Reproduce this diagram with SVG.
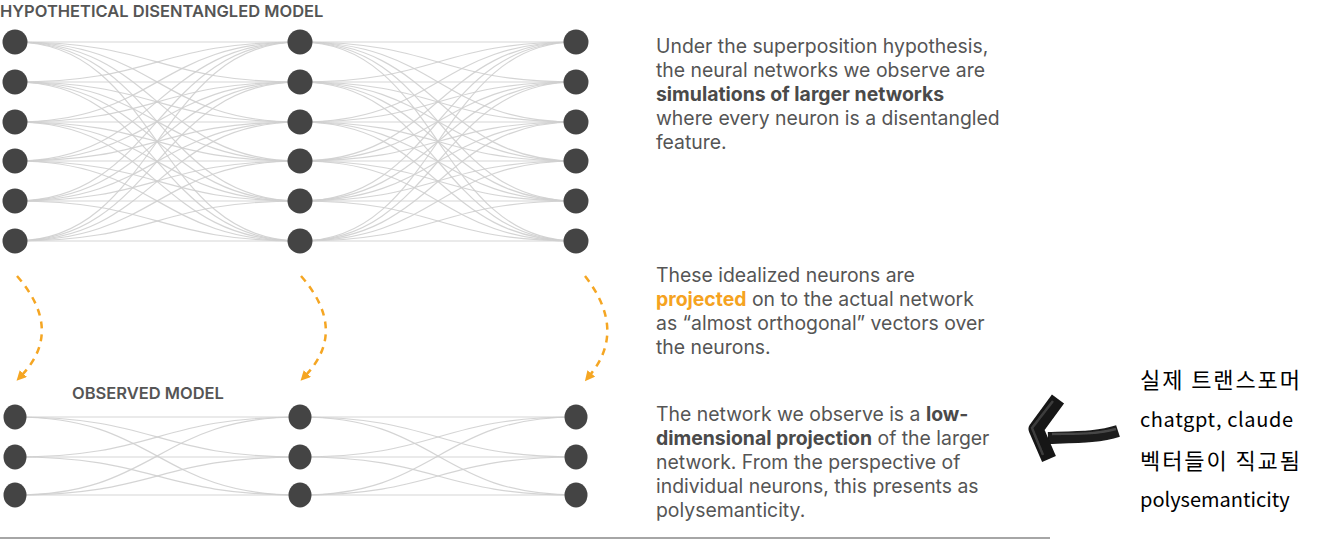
<svg xmlns="http://www.w3.org/2000/svg" width="1320" height="540" viewBox="0 0 1320 540">
<defs>
<style>
.e{fill:none;stroke:#cfcfcf;stroke-width:1.2;opacity:0.9}
.n{fill:#444}
.title{font-family:Inter,"Liberation Sans",sans-serif;font-weight:600;font-size:16.5px;fill:#555}
.body{font-family:Inter,"Liberation Sans",sans-serif;font-size:19.4px;fill:#555}
.b{font-weight:700;fill:#4a4a4a}
.o{font-weight:700;fill:#f5a31f}
.proj{fill:none;stroke:#f5a623;stroke-width:2.5;stroke-dasharray:7 6}
.ko{font-family:"Noto Sans CJK KR","Liberation Sans",sans-serif;font-size:20px;fill:#000}
.kh{font-size:22px}
</style>
<marker id="ah" markerWidth="10" markerHeight="10" refX="2" refY="5" orient="auto" markerUnits="userSpaceOnUse" viewBox="0 0 10 10">
<path d="M0,0 L10,5 L0,10 z" fill="#f5a623"/>
</marker>
<filter id="soft" x="-10%" y="-10%" width="120%" height="120%">
<feGaussianBlur stdDeviation="0.7"/>
</filter>
</defs>
<rect width="1320" height="540" fill="#fff"/>

<text class="title" x="0" y="17">HYPOTHETICAL DISENTANGLED MODEL</text>
<text class="title" x="72" y="399">OBSERVED MODEL</text>

<g id="connectors">
<!-- top layer A: 15 -> 300 -->
<path class="e" d="M15,42 C157,42 157,42 300,42"/>
<path class="e" d="M15,42 C157,42 157,82 300,82"/>
<path class="e" d="M15,42 C157,42 157,122 300,122"/>
<path class="e" d="M15,42 C157,42 157,161 300,161"/>
<path class="e" d="M15,42 C157,42 157,201 300,201"/>
<path class="e" d="M15,42 C157,42 157,241 300,241"/>
<path class="e" d="M15,82 C157,82 157,42 300,42"/>
<path class="e" d="M15,82 C157,82 157,82 300,82"/>
<path class="e" d="M15,82 C157,82 157,122 300,122"/>
<path class="e" d="M15,82 C157,82 157,161 300,161"/>
<path class="e" d="M15,82 C157,82 157,201 300,201"/>
<path class="e" d="M15,82 C157,82 157,241 300,241"/>
<path class="e" d="M15,122 C157,122 157,42 300,42"/>
<path class="e" d="M15,122 C157,122 157,82 300,82"/>
<path class="e" d="M15,122 C157,122 157,122 300,122"/>
<path class="e" d="M15,122 C157,122 157,161 300,161"/>
<path class="e" d="M15,122 C157,122 157,201 300,201"/>
<path class="e" d="M15,122 C157,122 157,241 300,241"/>
<path class="e" d="M15,161 C157,161 157,42 300,42"/>
<path class="e" d="M15,161 C157,161 157,82 300,82"/>
<path class="e" d="M15,161 C157,161 157,122 300,122"/>
<path class="e" d="M15,161 C157,161 157,161 300,161"/>
<path class="e" d="M15,161 C157,161 157,201 300,201"/>
<path class="e" d="M15,161 C157,161 157,241 300,241"/>
<path class="e" d="M15,201 C157,201 157,42 300,42"/>
<path class="e" d="M15,201 C157,201 157,82 300,82"/>
<path class="e" d="M15,201 C157,201 157,122 300,122"/>
<path class="e" d="M15,201 C157,201 157,161 300,161"/>
<path class="e" d="M15,201 C157,201 157,201 300,201"/>
<path class="e" d="M15,201 C157,201 157,241 300,241"/>
<path class="e" d="M15,241 C157,241 157,42 300,42"/>
<path class="e" d="M15,241 C157,241 157,82 300,82"/>
<path class="e" d="M15,241 C157,241 157,122 300,122"/>
<path class="e" d="M15,241 C157,241 157,161 300,161"/>
<path class="e" d="M15,241 C157,241 157,201 300,201"/>
<path class="e" d="M15,241 C157,241 157,241 300,241"/>
<!-- top layer B: 300 -> 576 -->
<path class="e" d="M300,42 C438,42 438,42 576,42"/>
<path class="e" d="M300,42 C438,42 438,82 576,82"/>
<path class="e" d="M300,42 C438,42 438,122 576,122"/>
<path class="e" d="M300,42 C438,42 438,161 576,161"/>
<path class="e" d="M300,42 C438,42 438,201 576,201"/>
<path class="e" d="M300,42 C438,42 438,241 576,241"/>
<path class="e" d="M300,82 C438,82 438,42 576,42"/>
<path class="e" d="M300,82 C438,82 438,82 576,82"/>
<path class="e" d="M300,82 C438,82 438,122 576,122"/>
<path class="e" d="M300,82 C438,82 438,161 576,161"/>
<path class="e" d="M300,82 C438,82 438,201 576,201"/>
<path class="e" d="M300,82 C438,82 438,241 576,241"/>
<path class="e" d="M300,122 C438,122 438,42 576,42"/>
<path class="e" d="M300,122 C438,122 438,82 576,82"/>
<path class="e" d="M300,122 C438,122 438,122 576,122"/>
<path class="e" d="M300,122 C438,122 438,161 576,161"/>
<path class="e" d="M300,122 C438,122 438,201 576,201"/>
<path class="e" d="M300,122 C438,122 438,241 576,241"/>
<path class="e" d="M300,161 C438,161 438,42 576,42"/>
<path class="e" d="M300,161 C438,161 438,82 576,82"/>
<path class="e" d="M300,161 C438,161 438,122 576,122"/>
<path class="e" d="M300,161 C438,161 438,161 576,161"/>
<path class="e" d="M300,161 C438,161 438,201 576,201"/>
<path class="e" d="M300,161 C438,161 438,241 576,241"/>
<path class="e" d="M300,201 C438,201 438,42 576,42"/>
<path class="e" d="M300,201 C438,201 438,82 576,82"/>
<path class="e" d="M300,201 C438,201 438,122 576,122"/>
<path class="e" d="M300,201 C438,201 438,161 576,161"/>
<path class="e" d="M300,201 C438,201 438,201 576,201"/>
<path class="e" d="M300,201 C438,201 438,241 576,241"/>
<path class="e" d="M300,241 C438,241 438,42 576,42"/>
<path class="e" d="M300,241 C438,241 438,82 576,82"/>
<path class="e" d="M300,241 C438,241 438,122 576,122"/>
<path class="e" d="M300,241 C438,241 438,161 576,161"/>
<path class="e" d="M300,241 C438,241 438,201 576,201"/>
<path class="e" d="M300,241 C438,241 438,241 576,241"/>
<!-- bottom layer A -->
<path class="e" d="M15,417 C157,417 157,417 300,417"/>
<path class="e" d="M15,417 C157,417 157,457 300,457"/>
<path class="e" d="M15,417 C157,417 157,495 300,495"/>
<path class="e" d="M15,457 C157,457 157,417 300,417"/>
<path class="e" d="M15,457 C157,457 157,457 300,457"/>
<path class="e" d="M15,457 C157,457 157,495 300,495"/>
<path class="e" d="M15,495 C157,495 157,417 300,417"/>
<path class="e" d="M15,495 C157,495 157,457 300,457"/>
<path class="e" d="M15,495 C157,495 157,495 300,495"/>
<!-- bottom layer B -->
<path class="e" d="M300,417 C438,417 438,417 576,417"/>
<path class="e" d="M300,417 C438,417 438,457 576,457"/>
<path class="e" d="M300,417 C438,417 438,495 576,495"/>
<path class="e" d="M300,457 C438,457 438,417 576,417"/>
<path class="e" d="M300,457 C438,457 438,457 576,457"/>
<path class="e" d="M300,457 C438,457 438,495 576,495"/>
<path class="e" d="M300,495 C438,495 438,417 576,417"/>
<path class="e" d="M300,495 C438,495 438,457 576,457"/>
<path class="e" d="M300,495 C438,495 438,495 576,495"/>
<!-- projection arrows -->
<path class="proj" d="M17,276 Q64,330 22,375" marker-end="url(#ah)"/>
<path class="proj" d="M301,276 Q348,330 306,375" marker-end="url(#ah)"/>
<path class="proj" d="M585,276 Q627,330 590,375" marker-end="url(#ah)"/>
</g>

<g id="hyp-l0-0"><circle class="n" cx="15" cy="42" r="12.5"/></g>
<g id="hyp-l0-1"><circle class="n" cx="15" cy="82" r="12.5"/></g>
<g id="hyp-l0-2"><circle class="n" cx="15" cy="122" r="12.5"/></g>
<g id="hyp-l0-3"><circle class="n" cx="15" cy="161" r="12.5"/></g>
<g id="hyp-l0-4"><circle class="n" cx="15" cy="201" r="12.5"/></g>
<g id="hyp-l0-5"><circle class="n" cx="15" cy="241" r="12.5"/></g>
<g id="hyp-l1-0"><circle class="n" cx="300" cy="42" r="12.5"/></g>
<g id="hyp-l1-1"><circle class="n" cx="300" cy="82" r="12.5"/></g>
<g id="hyp-l1-2"><circle class="n" cx="300" cy="122" r="12.5"/></g>
<g id="hyp-l1-3"><circle class="n" cx="300" cy="161" r="12.5"/></g>
<g id="hyp-l1-4"><circle class="n" cx="300" cy="201" r="12.5"/></g>
<g id="hyp-l1-5"><circle class="n" cx="300" cy="241" r="12.5"/></g>
<g id="hyp-l2-0"><circle class="n" cx="576" cy="42" r="12.5"/></g>
<g id="hyp-l2-1"><circle class="n" cx="576" cy="82" r="12.5"/></g>
<g id="hyp-l2-2"><circle class="n" cx="576" cy="122" r="12.5"/></g>
<g id="hyp-l2-3"><circle class="n" cx="576" cy="161" r="12.5"/></g>
<g id="hyp-l2-4"><circle class="n" cx="576" cy="201" r="12.5"/></g>
<g id="hyp-l2-5"><circle class="n" cx="576" cy="241" r="12.5"/></g>

<g id="obs-l0-0"><ellipse class="n" cx="15" cy="417" rx="11.5" ry="12.5"/></g>
<g id="obs-l0-1"><ellipse class="n" cx="15" cy="457" rx="11.5" ry="12.5"/></g>
<g id="obs-l0-2"><ellipse class="n" cx="15" cy="495" rx="11.5" ry="12.5"/></g>
<g id="obs-l1-0"><ellipse class="n" cx="300" cy="417" rx="11.5" ry="12.5"/></g>
<g id="obs-l1-1"><ellipse class="n" cx="300" cy="457" rx="11.5" ry="12.5"/></g>
<g id="obs-l1-2"><ellipse class="n" cx="300" cy="495" rx="11.5" ry="12.5"/></g>
<g id="obs-l2-0"><ellipse class="n" cx="576" cy="417" rx="11.5" ry="12.5"/></g>
<g id="obs-l2-1"><ellipse class="n" cx="576" cy="457" rx="11.5" ry="12.5"/></g>
<g id="obs-l2-2"><ellipse class="n" cx="576" cy="495" rx="11.5" ry="12.5"/></g>

<g id="text-1">
<text class="body">
<tspan x="656" y="53">Under the superposition hypothesis,</tspan>
<tspan x="656" y="77">the neural networks we observe are</tspan>
<tspan x="656" y="101" class="b">simulations of larger networks</tspan>
<tspan x="656" y="125">where every neuron is a disentangled</tspan>
<tspan x="656" y="149">feature.</tspan>
</text>
</g>
<g id="text-2">
<text class="body">
<tspan x="656" y="282">These idealized neurons are</tspan>
<tspan x="656" y="306"><tspan class="o">projected</tspan> on to the actual network</tspan>
<tspan x="656" y="330">as “almost orthogonal” vectors over</tspan>
<tspan x="656" y="354">the neurons.</tspan>
</text>
</g>
<g id="text-3">
<text class="body">
<tspan x="656" y="421">The network we observe is a <tspan class="b">low-</tspan></tspan>
<tspan x="656" y="445"><tspan class="b">dimensional projection</tspan> of the larger</tspan>
<tspan x="656" y="469">network. From the perspective of</tspan>
<tspan x="656" y="493">individual neurons, this presents as</tspan>
<tspan x="656" y="517">polysemanticity.</tspan>
</text>
</g>

<line x1="0" y1="538" x2="1050" y2="538" stroke="#888" stroke-width="1.5"/>

<g id="brush-arrow" filter="url(#soft)">
<path d="M1118,431 C1100,437 1080,437 1048,438" fill="none" stroke="#1a1a1a" stroke-width="12" stroke-linecap="butt"/>
<path d="M1116,429 C1098,434 1078,434 1052,434" fill="none" stroke="#666" stroke-width="2.5" opacity="0.6"/>
<path d="M1058,399 L1036,429 L1049,459" fill="none" stroke="#151515" stroke-width="15" stroke-linejoin="round" stroke-linecap="butt"/>
<path d="M1053,401 L1032,428 L1043,455" fill="none" stroke="#666" stroke-width="2.5" opacity="0.5"/>
</g>

<g id="korean-note">
<text class="ko kh" x="1140" y="388" textLength="160" lengthAdjust="spacing">실제 트랜스포머</text>
<text class="ko" x="1140" y="427" textLength="153" lengthAdjust="spacing">chatgpt, claude</text>
<text class="ko kh" x="1140" y="469" textLength="160" lengthAdjust="spacing">벡터들이 직교됨</text>
<text class="ko" x="1140" y="507">polysemanticity</text>
</g>
</svg>
